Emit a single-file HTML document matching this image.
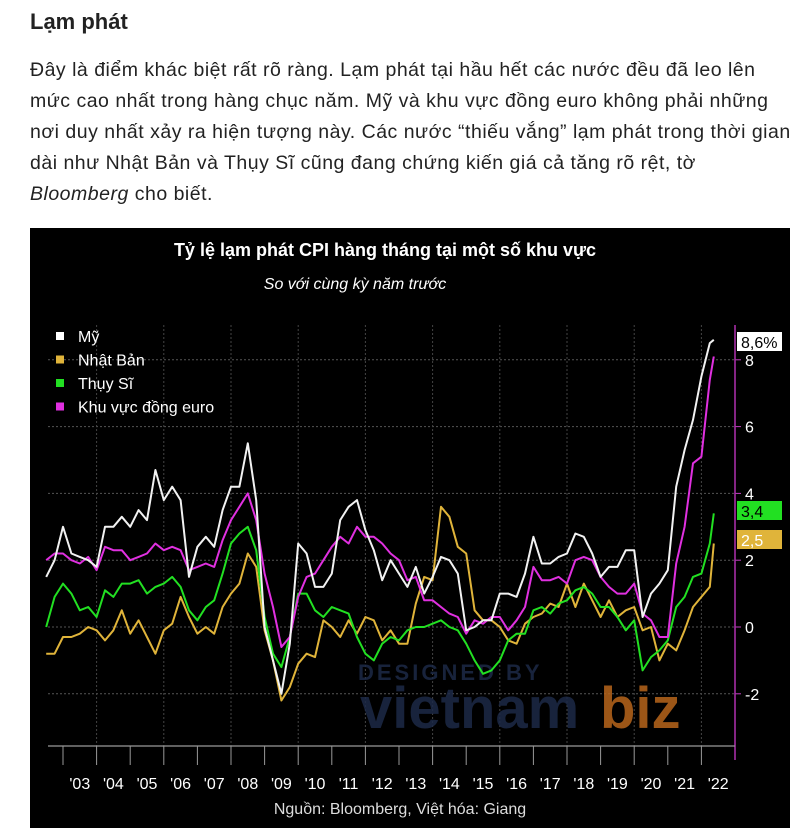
<!DOCTYPE html>
<html><head><meta charset="utf-8">
<style>
body{margin:0;width:803px;height:835px;background:#fff;overflow:hidden;font-family:"Liberation Sans",sans-serif;}
#h{position:absolute;left:30px;top:9px;font-size:22px;font-weight:bold;color:#222;}
#p{position:absolute;left:30px;top:55px;width:780px;font-size:19.5px;line-height:31px;color:#222;white-space:nowrap;letter-spacing:0.5px;}
#chart{position:absolute;left:30px;top:228px;width:760px;height:600px;background:#000;}
</style></head><body>
<div id="h">Lạm phát</div>
<div id="p">Đây là điểm khác biệt rất rõ ràng. Lạm phát tại hầu hết các nước đều đã leo lên<br>mức cao nhất trong hàng chục năm. Mỹ và khu vực đồng euro không phải những<br>nơi duy nhất xảy ra hiện tượng này. Các nước “thiếu vắng” lạm phát trong thời gian<br>dài như Nhật Bản và Thụy Sĩ cũng đang chứng kiến giá cả tăng rõ rệt, tờ<br><i>Bloomberg</i> cho biết.</div>
<svg id="chart" width="760" height="600" viewBox="30 228 760 600" xmlns="http://www.w3.org/2000/svg" font-family="Liberation Sans, sans-serif">
<rect x="30" y="228" width="760" height="600" fill="#000"/>
<text x="385" y="256" fill="#fff" font-size="18" font-weight="bold" text-anchor="middle">Tỷ lệ lạm phát CPI hàng tháng tại một số khu vực</text>
<text x="355" y="289" fill="#fff" font-size="16" font-style="italic" text-anchor="middle">So với cùng kỳ năm trước</text>
<g id="grid"></g>
<g opacity="0.85">
<text x="358" y="680" fill="#1d2a47" font-size="22" font-weight="bold" letter-spacing="3">DESIGNED BY</text>
<text x="360" y="728" fill="#1d2a47" font-size="58" font-weight="bold">vietnam</text>
<text x="600" y="728" fill="#b8651c" font-size="58" font-weight="bold">biz</text>
</g>
<g id="series"></g>
<g id="axes"></g>
<g id="legend"></g>
<text x="400" y="814" fill="#ddd" font-size="16" text-anchor="middle">Nguồn: Bloomberg, Việt hóa: Giang</text>
</svg>
<script>
// quarterly observations starting 2002.50, last point May 2022
const startYear = 2002.5;
const usValues = [1.5,2.0, 3.0,2.2,2.1,2.0, 1.8,3.0,3.0,3.3, 3.0,3.5,3.2,4.7, 3.8,4.2,3.8,1.5, 2.4,2.7,2.4,3.5, 4.2,4.2,5.5,3.8, 0.0,-1.0,-2.0,-0.5, 2.5,2.2,1.2,1.2, 1.6,3.2,3.6,3.8, 2.9,2.3,1.4,2.0, 1.6,1.2,1.8,1.0, 1.5,2.1,2.0,1.6, -0.1,0.0,0.2,0.2, 1.0,1.0,0.9,1.6, 2.7,1.9,1.9,2.1, 2.2,2.8,2.7,2.2, 1.5,1.8,1.8,2.3, 2.3,0.3,1.0,1.3, 1.7,4.2,5.3,6.2, 7.5,8.5,8.6];
const euroValues = [2.0,2.2, 2.2,2.0,1.9,2.1, 1.7,2.4,2.3,2.3, 2.0,2.1,2.2,2.5, 2.3,2.4,2.3,1.7, 1.8,1.9,1.8,2.6, 3.2,3.6,4.0,3.2, 1.6,0.6,-0.6,-0.3, 0.9,1.5,1.6,2.0, 2.4,2.7,2.5,3.0, 2.7,2.7,2.5,2.2, 2.0,1.4,1.5,0.8, 0.8,0.6,0.4,0.3, -0.2,0.2,0.1,0.3, 0.3,-0.1,0.2,0.6, 1.8,1.4,1.4,1.5, 1.3,2.0,2.1,2.0, 1.5,1.2,1.0,1.0, 1.3,0.4,0.2,-0.3, -0.3,1.9,3.0,4.9, 5.1,7.4,8.1];
const swissValues = [0.0,0.9, 1.3,1.0,0.5,0.6, 0.3,1.1,0.9,1.3, 1.3,1.4,1.0,1.2, 1.3,1.5,1.2,0.5, 0.2,0.6,0.8,1.6, 2.5,2.8,3.0,2.3, 0.3,-0.8,-1.2,-0.3, 1.0,1.0,0.5,0.3, 0.6,0.5,0.4,-0.3, -0.8,-1.0,-0.5,-0.3, -0.4,-0.1,0.0,0.0, 0.1,0.2,0.0,-0.1, -0.5,-1.0,-1.4,-1.3, -1.0,-0.4,-0.2,-0.2, 0.5,0.6,0.4,0.7, 0.8,1.1,1.2,1.0, 0.6,0.6,0.3,-0.1, 0.2,-1.3,-0.9,-0.7, -0.4,0.6,0.9,1.5, 1.6,2.5,3.4];
const japanValues = [-0.8,-0.8, -0.3,-0.3,-0.2,0.0, -0.1,-0.4,-0.1,0.5, -0.2,0.2,-0.3,-0.8, -0.1,0.1,0.9,0.3, -0.2,0.0,-0.2,0.6, 1.0,1.3,2.2,1.8, -0.1,-1.0,-2.2,-1.8, -1.1,-0.8,-0.9,0.2, 0.0,-0.3,0.2,-0.2, 0.3,0.2,-0.4,-0.1, -0.5,-0.5,0.7,1.5, 1.4,3.6,3.3,2.4, 2.2,0.5,0.2,0.2, 0.0,-0.4,-0.5,0.1, 0.3,0.4,0.7,0.6, 1.3,0.6,1.3,0.8, 0.3,0.8,0.3,0.5, 0.6,-0.1,0.0,-1.0, -0.5,-0.7,-0.1,0.6, 0.9,1.2,2.5];
const seriesNames = ["Mỹ","Nhật Bản","Thụy Sĩ","Khu vực đồng euro"];
const yTicks = [-2,0,2,4,6,8];
const xYears = [2003,2004,2005,2006,2007,2008,2009,2010,2011,2012,2013,2014,2015,2016,2017,2018,2019,2020,2021,2022];
const xLabels = ["'03","'04","'05","'06","'07","'08","'09","'10","'11","'12","'13","'14","'15","'16","'17","'18","'19","'20","'21","'22"];
const endLabels = ["8,6%","3,4","2,5"];

const NS="http://www.w3.org/2000/svg";
function X(t){return 63+(t-2003)*33.6;}
function Y(v){return 627-33.4*v;}
function tOf(i,n){return i===n-1? 2022.37 : startYear+i*0.25;}
function mk(tag,attrs,parent){const e=document.createElementNS(NS,tag);for(const k in attrs)e.setAttribute(k,attrs[k]);parent.appendChild(e);return e;}
const grid=document.getElementById('grid'),axes=document.getElementById('axes'),ser=document.getElementById('series'),leg=document.getElementById('legend');
yTicks.forEach(v=>{
  const l=mk('line',{x1:48,x2:735,y1:Y(v),y2:Y(v),stroke:'#555','stroke-dasharray':'2,2','stroke-width':1},grid);
  
  
  const tk=mk('line',{x1:735,x2:741,y1:Y(v),y2:Y(v),stroke:'#c040c0'},axes);
  
  
  const t=mk('text',{x:745,y:Y(v)+6,fill:'#fff','font-size':16},axes);
  t.textContent=v;
  
  
});
[2004,2006,2008,2010,2012,2014,2016,2018,2020,2022].forEach(y=>{
  const l=mk('line',{x1:X(y),x2:X(y),y1:325,y2:746,stroke:'#444','stroke-dasharray':'2,2'},grid);
  
  
});
const ax=mk('line',{x1:735,x2:735,y1:325,y2:760,stroke:'#b030b0','stroke-width':1.5},axes);


const xa=mk('line',{x1:48,x2:735,y1:746,y2:746,stroke:'#999','stroke-width':1.2},axes);


xYears.forEach((y,i)=>{
  const tk=mk('line',{x1:X(y),x2:X(y),y1:746,y2:765,stroke:'#999'},axes);
  
  
  const t=mk('text',{x:X(y)+16.8,y:789,fill:'#fff','font-size':16,'text-anchor':'middle'},axes);
  t.textContent=xLabels[i];
  
  
});
const defs=[[japanValues,'#e0b43a','series-japan'],[swissValues,'#22e022','series-switzerland'],[euroValues,'#e030e0','series-eurozone'],[usValues,'#f2f2f2','series-us']];
defs.forEach(([vals,c,name])=>{
  const n=vals.length;
  const d=vals.map((v,i)=>(i?'L':'M')+X(tOf(i,n)).toFixed(1)+','+Y(v).toFixed(1)).join('');
  const p=mk('path',{d:d,fill:'none',stroke:c,'stroke-width':2,'stroke-linejoin':'round'},ser);
  
  
});
const legColors=['#fff','#e0b43a','#22e022','#e030e0'];
seriesNames.forEach((s,i)=>{
  const y=337+i*23.5;
  const r=mk('rect',{x:56,y:y-5,width:8,height:8,fill:legColors[i]},leg);
  
  
  const t=mk('text',{x:78,y:y+5,fill:'#fff','font-size':16},leg);
  t.textContent=s;
  
  
});
const boxes=[[usValues,'#fff','#000',332,'end-label-us'],[swissValues,'#22e022','#000',501,'end-label-switzerland'],[japanValues,'#e0b43a','#fff',530,'end-label-japan']];
boxes.forEach(([vals,bg,fg,y,name],i)=>{
  const r=mk('rect',{x:737,y:y,width:45,height:19,fill:bg},axes);
  
  
  const t=mk('text',{x:741,y:y+16,fill:fg,'font-size':16},axes);
  t.textContent=endLabels[i];
  
  
});
</script>
</body></html>
